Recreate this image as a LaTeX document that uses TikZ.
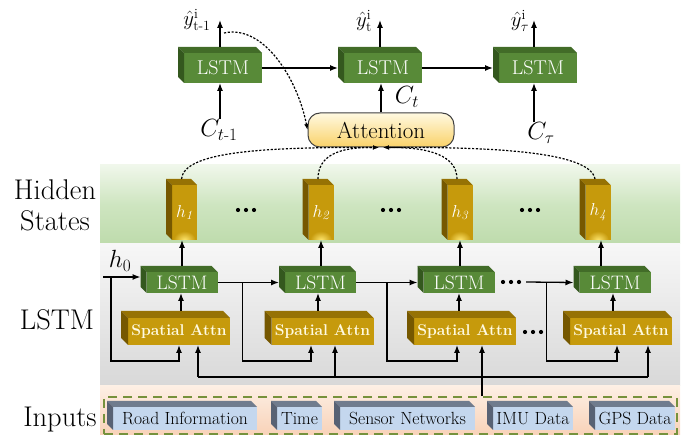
\documentclass[tikz,border=0pt]{standalone}
\usepackage{amsmath}
\usepackage{fontspec}
\usetikzlibrary{arrows.meta,calc}

\definecolor{lstmFront}{RGB}{88,138,56}
\definecolor{lstmTop}{RGB}{66,108,40}
\definecolor{lstmSide}{RGB}{52,88,30}
\definecolor{goldFront}{RGB}{198,154,12}
\definecolor{goldTop}{RGB}{150,114,4}
\definecolor{goldSide}{RGB}{118,88,0}
\definecolor{goldGlow}{RGB}{255,230,110}
\definecolor{cream}{RGB}{255,250,225}
\definecolor{inFront}{RGB}{196,215,238}
\definecolor{inTopFace}{RGB}{112,124,142}
\definecolor{inSideFace}{RGB}{88,98,116}
\definecolor{inBorder}{RGB}{118,146,60}
\definecolor{hsTop}{RGB}{240,247,235}
\definecolor{hsMid}{RGB}{206,229,192}
\definecolor{hsBot}{RGB}{190,219,172}
\definecolor{lsTop}{RGB}{247,247,247}
\definecolor{lsBot}{RGB}{216,216,216}
\definecolor{inTop}{RGB}{253,239,228}
\definecolor{inBot}{RGB}{248,210,184}
\definecolor{attTop}{RGB}{255,249,225}
\definecolor{attBot}{RGB}{250,210,105}
\definecolor{attBorder}{RGB}{64,64,64}

% top and left faces of an extruded box: name, depth, top colour, side colour
\newcommand{\boxfaces}[4]{%
  \fill[#3] (#1.north west) -- (#1.north east) -- ([shift={(-#2,#2)}]#1.north east) -- ([shift={(-#2,#2)}]#1.north west) -- cycle;
  \fill[#4] (#1.north west) -- ([shift={(-#2,#2)}]#1.north west) -- ([shift={(-#2,#2)}]#1.south west) -- (#1.south west) -- cycle;
}
% three heavy dots centred on a node
\newcommand{\dotrow}[1]{%
  \fill ($(#1)+(-8,0)$) circle (2.1pt) (#1) circle (2.1pt) ($(#1)+(8,0)$) circle (2.1pt);
}
% warm glow at the foot of a hidden-state block
\newcommand{\footglow}[1]{%
  \begin{scope}
    \clip (#1.south west) rectangle (#1.north east);
    \shade[inner color=goldGlow, outer color=goldFront] (#1.south) ellipse (11pt and 9pt);
  \end{scope}
}

\tikzset{
  arr/.style={-{Latex[length=8pt,width=6pt]}, line width=1.3pt},
  link/.style={line width=1.3pt},
  dotarr/.style={-{Latex[length=6pt,width=4.5pt]}, line width=1.2pt, dash pattern=on 2.2pt off 1.6pt},
  face/.style={inner sep=0pt, outer sep=0pt},
  lstmbox/.style={face, fill=lstmFront, minimum width=71pt, minimum height=21pt, text=white, font=\fontsize{19.5}{19.5}\selectfont},
  declstm/.style={lstmbox, minimum width=78pt, minimum height=30pt, font=\fontsize{20}{20}\selectfont},
  sabox/.style={face, fill=goldFront, minimum width=102pt, minimum height=27pt, text=cream, font=\bfseries\fontsize{15.6}{15.6}\selectfont},
  hidbox/.style={face, fill=goldFront, minimum width=25pt, minimum height=55pt, text=white, font=\fontsize{18}{18}\selectfont},
  inbox/.style={face, fill=inFront, minimum height=23pt, font=\fontsize{17.6}{17.6}\selectfont},
  rowlabel/.style={inner sep=0pt, font=\fontsize{28.5}{31}\selectfont, align=center},
  clabel/.style={inner sep=0pt, font=\fontsize{24}{24}\selectfont},
  ylabel/.style={inner sep=0pt, font=\fontsize{20}{20}\selectfont},
  ell/.style={inner sep=0pt, minimum width=24pt, minimum height=5pt},
}

\begin{document}
\begin{tikzpicture}[x=1pt,y=1pt]
\useasboundingbox (0,0) rectangle (699,-435);

% background bands
\fill[top color=hsTop, bottom color=hsBot, middle color=hsMid] (100,-165) rectangle (680,-244);
\fill[top color=lsTop, bottom color=lsBot] (100,-244) rectangle (680,-386);
\fill[top color=inTop, bottom color=inBot] (100,-386) rectangle (680,-435);

% row captions
\node[rowlabel] (lblhs) at (55,-205) {Hidden\\States};
\node[rowlabel] (lbllstm) at (57,-320) {LSTM};
\node[rowlabel] (lblin) at (60,-420) {Inputs};

% ---------- inputs ----------
\node[draw=inBorder, dash pattern=on 9pt off 6pt, line width=1.5pt, minimum width=573pt, minimum height=37pt, inner sep=0pt] (inputs) at (390.5,-415.5) {};
\node[inbox, minimum width=144pt] (road) at (185,-418.5) {Road Information};
\node[inbox, minimum width=45pt] (time) at (299.5,-418.5) {Time};
\node[inbox, minimum width=135pt] (sensor) at (407.5,-418.5) {Sensor Networks};
\node[inbox, minimum width=80pt] (imu) at (533,-418.5) {IMU Data};
\node[inbox, minimum width=80pt] (gps) at (635,-418.5) {GPS Data};
\foreach \b in {road,time,sensor,imu,gps}{\boxfaces{\b}{6}{inTopFace}{inSideFace}}

% ---------- spatial attention row ----------
\node[sabox] (sa1) at (179,-331.5) {Spatial Attn};
\node[sabox] (sa2) at (322.5,-331.5) {Spatial Attn};
\node[sabox] (sa3) at (465,-331.5) {Spatial Attn};
\node[sabox] (sa4) at (621,-331.5) {Spatial Attn};
\foreach \b in {sa1,sa2,sa3,sa4}{\boxfaces{\b}{7}{goldTop}{goldSide}}
\node[ell] (sdots) at (533,-332) {};
\dotrow{sdots}

% ---------- encoder LSTM row ----------
\node[lstmbox] (el1) at (182,-282.5) {LSTM};
\node[lstmbox] (el2) at (320.5,-282.5) {LSTM};
\node[lstmbox] (el3) at (459,-282.5) {LSTM};
\node[lstmbox] (el4) at (615,-282.5) {LSTM};
\foreach \b in {el1,el2,el3,el4}{\boxfaces{\b}{6}{lstmTop}{lstmSide}}
\node[ell] (edots) at (511,-282) {};
\dotrow{edots}

% ---------- hidden states ----------
\node[hidbox] (h1) at (184.5,-212.5) {$h_{\mathit{1}}$};
\node[hidbox] (h2) at (321,-212.5) {$h_{\mathit{2}}$};
\node[hidbox] (h3) at (460,-212.5) {$h_{\mathit{3}}$};
\node[hidbox] (h4) at (598,-212.5) {$h_{\mathit{4}}$};
\foreach \b in {h1,h2,h3,h4}{\boxfaces{\b}{6}{goldTop}{goldSide}\footglow{\b}}
\node[ell] (hd1) at (246,-210) {};
\node[ell] (hd2) at (391,-210) {};
\node[ell] (hd3) at (530,-210) {};
\foreach \d in {hd1,hd2,hd3}{\dotrow{\d}}

% ---------- decoder ----------
\node[declstm] (dl1) at (223,-68) {LSTM};
\node[declstm] (dl2) at (383,-68) {LSTM};
\node[declstm] (dl3) at (538,-68) {LSTM};
\foreach \b in {dl1,dl2,dl3}{\boxfaces{\b}{6}{lstmTop}{lstmSide}}

\node[draw=attBorder, line width=1pt, rounded corners=12pt, top color=attTop, bottom color=attBot,
      minimum width=146pt, minimum height=34pt, inner sep=0pt, font=\fontsize{23}{23}\selectfont] (att) at (381,-130) {Attention};

\node[ylabel] (yh1) at (197,-20) {$\hat{y}^{\mathrm{i}}_{\mathrm{t\text{-}1}}$};
\node[ylabel] (yh2) at (364,-21) {$\hat{y}^{\mathrm{i}}_{\mathrm{t}}$};
\node[ylabel] (yh3) at (520,-21) {$\hat{y}^{\mathrm{i}}_{\tau}$};

\node[clabel] (ct1) at (219,-130) {$C_{t\text{-}1}$};
\node[clabel] (ct) at (407,-97) {$C_{t}$};
\node[clabel] (ctau) at (541,-133) {$C_{\tau}$};
\node[inner sep=0pt, font=\fontsize{23}{23}\selectfont] (hzero) at (120,-261) {$h_0$};

% ---------- decoder connectors ----------
\coordinate (dl1x) at ($(dl1.south)+(-3,0)$);
\coordinate (dl3x) at ($(dl3.south)+(-4,0)$);
\coordinate (o1) at ($(dl1.north)+(-3,6)$);
\coordinate (o2) at ($(dl2.north)+(-3,6)$);
\coordinate (o3) at ($(dl3.north)+(-4,6)$);
\draw[arr] (o1) -- ++(0,27) coordinate (y1);
\draw[arr] (o2) -- ++(0,27) coordinate (y2);
\draw[arr] (o3) -- ++(0,27) coordinate (y3);
\draw[arr] (ct1.north -| dl1x) -- (dl1x);
\draw[arr] (ctau.north -| dl3x) -- (dl3x);
\draw[arr] (att.north) -- (att.north |- dl2.south);
\draw[arr] (dl1.east) -- ($(dl2.west)+(-6,0)$);
\draw[arr] (dl2.east) -- ($(dl3.west)+(-6,0)$);

% attention feedback and hidden-state links
\coordinate (fb) at (224,-33);
\draw[dotarr] (fb) .. controls (264,-24) and (298,-80) .. (att.west);
\draw[dotarr] ($(h1.north)+(-3,6)$) .. controls (184,-152) and (260,-147) .. ($(att.south)+(-2,0)$);
\draw[dotarr] ($(h2.north)+(-3,6)$) .. controls (318,-156) and (338,-147) .. ($(att.south)+(-2,0)$);
\draw[dotarr] ($(h3.north)+(-3,6)$) .. controls (457,-156) and (430,-147) .. ($(att.south)+(2,0)$);
\draw[dotarr] ($(h4.north)+(-3,6)$) .. controls (590,-150) and (480,-147) .. ($(att.south)+(2,0)$);

% ---------- encoder connectors ----------
\coordinate (e1t) at ($(el1.north)+(0,6)$);
\coordinate (e2t) at ($(el2.north)+(0.5,6)$);
\coordinate (e3t) at ($(el3.north)+(1,6)$);
\coordinate (e4t) at ($(el4.north)+(-14,6)$);
\draw[arr] (e1t) -- (e1t |- h1.south);
\draw[arr] (e2t) -- (e2t |- h2.south);
\draw[arr] (e3t) -- (e3t |- h3.south);
\draw[arr] (e4t) -- (e4t |- h4.south);

\coordinate (s1t) at ($(sa1.north)+(2,7)$);
\coordinate (s2t) at ($(sa2.north)+(-4.5,7)$);
\coordinate (s3t) at ($(sa3.north)+(-6,7)$);
\coordinate (s4t) at ($(sa4.north)+(-8,7)$);
\draw[arr] (s1t) -- (s1t |- el1.south);
\draw[arr] (s2t) -- (s2t |- el2.south);
\draw[arr] (s3t) -- (s3t |- el3.south);
\draw[arr] (s4t) -- (s4t |- el4.south);

% recurrent links between LSTM cells
\coordinate (el1l) at ($(el1.west)+(-6,5.5)$);
\coordinate (el2l) at ($(el2.west)+(-6,0)$);
\coordinate (el3l) at ($(el3.west)+(-6,0)$);
\coordinate (el4l) at ($(el4.west)+(-6,0)$);
\coordinate (h0in) at (103,-277);
\draw[arr] (h0in) -- (el1l);
\draw[arr] (el1.east) -- (el2l);
\draw[arr] (el2.east) -- (el3l);
\draw[arr] ($(edots.east)+(3,0)$) -- (el4l);

% previous hidden state fed to spatial attention
\coordinate (sa1a) at (sa1.south);
\coordinate (sa2a) at ($(sa2.south)+(-11.5,0)$);
\coordinate (sa3a) at ($(sa3.south)+(-8,0)$);
\coordinate (sa4a) at ($(sa4.south)+(-4,0)$);
\coordinate (b0) at (111,-277);
\coordinate (b1) at ($(el1.east)+(25,0)$);
\coordinate (b2) at ($(el2.east)+(31,0)$);
\coordinate (b3) at ($(el4l)+(-27,0)$);
\draw[arr] (b0) |- ($(sa1a)+(0,-16)$) -- (sa1a);
\draw[arr] (b1) |- ($(sa2a)+(0,-16)$) -- (sa2a);
\draw[arr] (b2) |- ($(sa3a)+(0,-16)$) -- (sa3a);
\draw[arr] (b3) |- ($(sa4a)+(0,-16)$) -- (sa4a);

% input bus
\coordinate (sa1i) at ($(sa1.south)+(19,0)$);
\coordinate (sa2i) at ($(sa2.south)+(12.5,0)$);
\coordinate (sa3i) at ($(sa3.south)+(17,0)$);
\coordinate (sa4i) at ($(sa4.south)+(27,0)$);
\draw[link] ($(sa1i)+(0,-32)$) -- ($(sa4i)+(0,-32)$);
\draw[arr] ($(sa1i)+(0,-32)$) -- (sa1i);
\draw[arr] ($(sa2i)+(0,-32)$) -- (sa2i);
\draw[arr] ($(sa4i)+(0,-32)$) -- (sa4i);
\draw[arr] (inputs.north -| sa3i) -- (sa3i);
\end{tikzpicture}
\end{document}
